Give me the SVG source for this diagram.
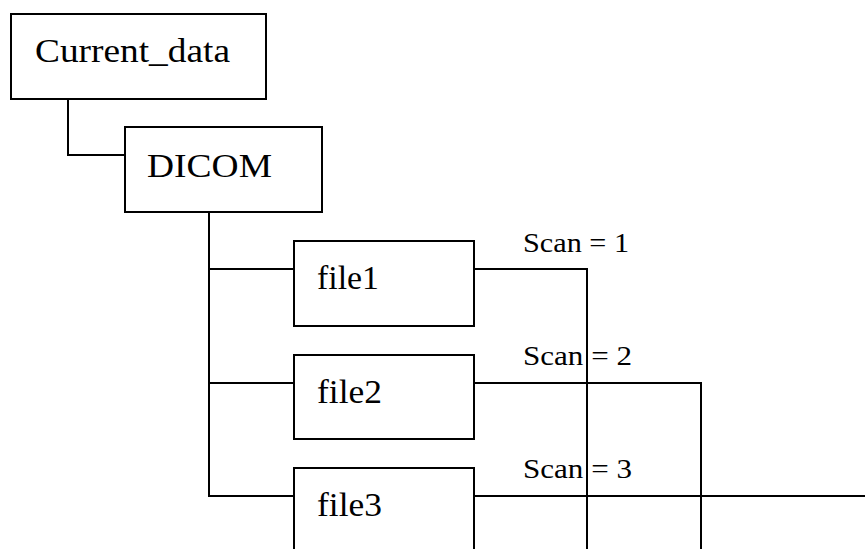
<svg xmlns="http://www.w3.org/2000/svg" width="865" height="549" viewBox="0 0 865 549">
<style>
.box{fill:#fff;stroke:#000;stroke-width:2}
.ln{fill:none;stroke:#000;stroke-width:2}
.t{font-family:"Liberation Serif","Times New Roman",serif;font-size:34px;fill:#000}
.s{font-family:"Liberation Serif","Times New Roman",serif;font-size:28px;fill:#000}
</style>
<rect width="865" height="549" fill="#fff"/>
<g id="connectors">
<path class="ln" d="M68 99V155H125"/>
<path class="ln" d="M209 212V496H294"/>
<path class="ln" d="M209 269H294"/>
<path class="ln" d="M209 383H294"/>
<path class="ln" d="M474 269H587V549"/>
<path class="ln" d="M474 383H701V549"/>
<path class="ln" d="M474 496H865"/>
</g>
<g id="current_data">
<rect class="box" x="11" y="14" width="255" height="85"/>
<text class="t" x="35" y="62" textLength="195" lengthAdjust="spacingAndGlyphs">Current_data</text>
</g>
<g id="dicom">
<rect class="box" x="125" y="127" width="197" height="85"/>
<text class="t" x="147" y="177" textLength="125" lengthAdjust="spacingAndGlyphs">DICOM</text>
</g>
<g id="file1">
<rect class="box" x="294" y="241" width="180" height="85"/>
<text class="t" x="317" y="289" textLength="62" lengthAdjust="spacingAndGlyphs">file1</text>
</g>
<g id="file2">
<rect class="box" x="294" y="355" width="180" height="84"/>
<text class="t" x="317" y="403" textLength="65" lengthAdjust="spacingAndGlyphs">file2</text>
</g>
<g id="file3">
<rect class="box" x="294" y="468" width="180" height="100"/>
<text class="t" x="317" y="516" textLength="65" lengthAdjust="spacingAndGlyphs">file3</text>
</g>
<g id="labels">
<text class="s" x="523" y="252" textLength="106" lengthAdjust="spacingAndGlyphs">Scan = 1</text>
<text class="s" x="523" y="365" textLength="109" lengthAdjust="spacingAndGlyphs">Scan = 2</text>
<text class="s" x="523" y="478" textLength="109" lengthAdjust="spacingAndGlyphs">Scan = 3</text>
</g>
</svg>
